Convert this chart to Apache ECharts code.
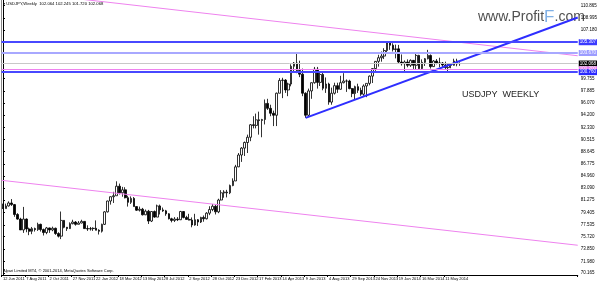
<!DOCTYPE html>
<html><head><meta charset="utf-8">
<script src="https://cdn.jsdelivr.net/npm/echarts@6/dist/echarts.min.js"></script>
<style>html,body{margin:0;padding:0;background:#fff}#c{width:600px;height:281px}</style>
</head><body><div id="c"></div>
<script>
// Weekly candles, week starting 12 Jun 2011 (index 0) to 15 Jun 2014 (index 157)
const dateLabels = ['12 Jun 2011','7 Aug 2011','2 Oct 2011','27 Nov 2011','22 Jan 2012','18 Mar 2012','13 May 2012','8 Jul 2012','2 Sep 2012','28 Oct 2012','23 Dec 2012','17 Feb 2013','14 Apr 2013','9 Jun 2013','4 Aug 2013','29 Sep 2013','24 Nov 2013','19 Jan 2014','16 Mar 2014','11 May 2014'];
const opens = [80.15,80.00,80.40,80.85,80.60,79.10,78.40,76.75,78.40,76.90,76.55,76.95,76.80,77.60,76.80,76.35,77.05,76.75,77.00,76.20,
75.80,78.20,77.15,76.95,77.70,77.95,77.60,77.80,78.05,76.95,76.90,76.95,77.00,76.70,76.55,77.60,79.50,81.15,81.80,81.95,
83.40,82.40,82.85,81.65,80.95,81.55,80.30,79.75,79.90,79.05,79.60,78.10,79.55,78.70,80.40,79.80,79.65,79.20,78.45,78.20,
78.40,78.30,79.55,78.65,78.35,78.25,77.50,78.30,77.95,78.65,78.45,79.30,79.85,80.35,79.50,81.30,82.40,82.50,82.40,83.50,
84.20,86.35,88.15,89.20,90.05,90.85,92.75,92.65,93.50,93.40,93.55,96.00,95.25,94.50,94.20,97.55,99.50,99.55,98.05,98.95,
101.65,102.15,101.00,100.45,97.55,94.20,97.90,99.15,101.20,99.20,100.40,98.30,98.95,96.20,97.55,98.70,98.15,99.15,99.40,99.40,
98.25,97.50,98.55,98.00,97.40,98.65,99.05,100.15,101.30,102.40,102.95,103.20,104.05,105.20,104.85,104.20,104.30,102.30,102.05,102.30,
101.80,102.55,101.80,103.30,101.30,102.25,102.80,103.30,101.60,102.45,102.15,102.15,101.85,101.45,101.95,101.80,102.45,102.06];
const highs = [80.75,80.75,81.10,81.45,80.70,79.30,78.60,80.25,78.50,77.10,77.20,77.10,77.85,77.70,76.95,77.20,77.10,77.25,77.10,76.40,
79.55,78.25,77.20,77.90,78.30,78.10,78.10,78.30,78.10,77.45,77.20,77.15,78.20,76.85,77.70,79.60,81.20,81.85,82.55,84.15,
83.80,83.30,83.25,81.95,81.85,81.75,80.35,80.30,80.10,79.85,79.80,79.60,79.70,80.60,80.60,80.15,79.80,79.30,78.60,78.70,
78.70,79.65,79.60,78.90,79.20,78.65,79.20,78.40,78.75,78.95,79.45,80.35,80.70,80.60,81.50,82.80,82.80,82.85,83.65,84.60,
86.65,88.45,89.35,90.20,91.25,92.85,94.05,94.45,94.75,93.65,96.60,96.70,95.80,94.90,97.65,99.85,99.90,99.70,99.15,101.95,
102.30,103.75,102.50,101.30,97.70,98.25,99.10,101.55,101.55,100.85,100.80,99.95,99.15,98.40,99.15,99.15,100.20,100.60,99.65,99.60,
98.35,98.70,99.00,98.40,98.90,99.05,100.25,101.35,102.45,103.40,103.90,104.40,105.40,105.45,105.15,104.95,104.90,103.45,102.55,102.70,
102.70,102.60,103.75,103.40,102.70,102.90,104.15,103.45,102.60,102.75,102.95,102.30,102.35,102.00,102.10,102.80,102.80,102.25];
const lows = [79.95,80.00,80.30,80.40,78.75,78.30,76.75,76.30,76.40,75.95,76.10,76.50,76.60,76.50,75.90,76.10,76.30,76.55,76.00,75.60,
75.35,77.00,76.60,76.90,77.60,77.40,77.60,77.75,76.90,76.60,76.65,76.60,76.70,76.05,76.35,77.50,79.40,80.60,80.85,81.95,
82.15,81.80,81.55,80.30,80.70,80.30,79.65,79.55,78.95,79.00,77.65,77.95,78.60,78.70,79.10,79.50,78.90,78.35,77.90,77.95,
78.10,78.25,78.50,78.35,78.20,77.15,77.40,77.35,77.80,78.00,78.35,79.00,79.60,79.10,79.30,81.25,81.65,81.70,82.20,83.40,
84.20,86.30,87.10,88.00,88.45,90.25,92.20,92.20,91.25,90.85,92.80,95.00,94.05,92.55,92.55,97.55,96.80,97.60,97.10,98.60,
100.70,100.60,100.00,97.10,93.80,94.00,96.70,99.00,98.25,98.65,98.00,97.60,95.80,95.80,97.35,97.60,98.10,99.05,97.75,98.15,
96.95,96.55,97.60,97.15,97.15,96.95,98.75,99.10,100.95,101.60,102.35,102.75,103.80,104.15,103.90,102.85,102.05,101.75,100.75,101.50,
101.55,101.25,101.20,101.20,101.20,101.70,102.70,101.30,101.55,101.95,101.50,101.45,101.10,100.80,101.35,101.75,101.65,101.72];
const closes = [80.00,80.40,80.85,80.60,79.10,78.40,76.75,78.40,76.90,76.55,76.95,76.80,77.60,76.80,76.35,77.05,76.75,77.00,76.20,75.80,
78.20,77.15,76.95,77.70,77.95,77.60,77.80,78.05,76.95,76.90,76.95,77.00,76.70,76.55,77.60,79.50,81.15,81.80,81.95,83.40,
82.40,82.85,81.65,80.95,81.55,80.30,79.75,79.90,79.05,79.60,78.10,79.55,78.70,80.40,79.80,79.65,79.20,78.45,78.20,78.40,
78.30,79.55,78.65,78.35,78.25,77.50,78.30,77.95,78.65,78.45,79.30,79.85,80.35,79.50,81.30,82.40,82.50,82.40,83.50,84.20,
86.35,88.15,89.20,90.05,90.85,92.75,92.65,93.50,93.40,93.55,96.00,95.25,94.50,94.20,97.55,99.50,99.55,98.05,98.95,101.65,
102.15,101.00,100.45,97.55,94.20,97.90,99.15,101.20,99.20,100.40,98.30,98.95,96.20,97.55,98.70,98.15,99.15,99.40,99.40,98.25,
97.50,98.55,98.00,97.40,98.65,99.05,100.15,101.30,102.40,102.95,103.20,104.05,105.20,104.85,104.20,104.30,102.30,102.05,102.30,101.80,
102.55,101.80,103.30,101.30,102.25,102.80,103.30,101.60,102.45,102.15,102.15,101.85,101.45,101.95,101.80,102.45,102.00,102.07];
const futureWeeks = 40;
const yTickLabels = [70.165,71.980,73.850,75.720,77.535,79.405,81.275,83.090,84.960,86.775,88.645,90.515,92.330,94.200,96.070,97.885,99.755,107.180,108.995,110.865];
const yMin = 69.891, yMax = 111.735;
// price levels (horizontal lines) and their box texts
const levelValues = [105.307, 103.670, 102.068, 101.200, 100.760];
const levelTexts = ['105.307','103.670','102.068','101.200','100.760'];
// trend lines in [week index, price]
const upperChannel = [[-0.5, 113.24], [197.5, 103.25]];
const lowerChannel = [[-0.5, 84.30], [197.5, 74.42]];
const supportLine = [[104, 93.80], [197.5, 109.08]];

const levelStyles = [
  {line:'#4848ff', w:2, box:'#3a3aff'},
  {line:'#a8a8ff', w:2, box:'#9c9cff'},
  {line:'#c8c8c8', w:1, box:'#000000'},
  {line:'#ee82ee', w:1, box:'#ee82ee'},
  {line:'#4848ff', w:2, box:'#2a2aff'}
];

const N = closes.length + futureWeeks;
const categories = [];
for (let i = 0; i < N; i++) categories.push(i % 8 === 0 && i / 8 < dateLabels.length ? dateLabels[i / 8] : '');
const candles = closes.map((c, i) => [opens[i], c, lows[i], highs[i]]);

const chart = echarts.init(document.getElementById('c'), null, {renderer: 'canvas'});
const FONT = 'Liberation Sans, Arial, sans-serif';
chart.setOption({
  animation: false,
  backgroundColor: '#fff',
  grid: {left: 0, right: 16, top: 0, bottom: 6},
  xAxis: [{
    type: 'category', data: categories, boundaryGap: true,
    axisLine: {lineStyle: {color: '#000', width: 1}},
    axisTick: {show: true, length: 2, interval: (i, v) => v !== '', lineStyle: {color: '#000'}},
    axisLabel: {interval: 0, align: 'left', fontSize: 4, color: '#000', margin: 2, fontFamily: FONT},
    splitLine: {show: false}
  }, {
    type: 'value', min: -0.5, max: N - 0.5, show: false
  }],
  yAxis: [{
    type: 'value', position: 'right', min: yMin, max: yMax, scale: true,
    axisLine: {show: true, lineStyle: {color: '#000'}},
    axisTick: {show: true, length: 2, customValues: yTickLabels, lineStyle: {color: '#000'}},
    axisLabel: {customValues: yTickLabels, fontSize: 4.5, color: '#000', margin: 3, fontFamily: FONT,
      formatter: v => v.toFixed(3)},
    splitLine: {show: false}
  }, {
    type: 'value', position: 'left', min: yMin, max: yMax,
    axisLine: {show: true, lineStyle: {color: '#888'}},
    axisTick: {show: false}, axisLabel: {show: false}, splitLine: {show: false}
  }],
  series: [{
    type: 'candlestick', data: candles, barWidth: 2.2,
    itemStyle: {color: '#ffffff', color0: '#000000', borderColor: '#000000', borderColor0: '#000000', borderWidth: 0.8},
    markLine: {
      silent: true, symbol: ['none', 'none'], animation: false,
      data: levelValues.map((v, i) => ({
        yAxis: v,
        lineStyle: {color: levelStyles[i].line, width: levelStyles[i].w, type: 'solid'},
        label: {show: true, position: 'end', formatter: levelTexts[i], color: '#fff', fontSize: 4.5,
          fontFamily: FONT, backgroundColor: levelStyles[i].box, padding: [0.5, 1], distance: 1}
      }))
    }
  }, {
    type: 'line', xAxisIndex: 1, data: upperChannel, symbol: 'none', clip: true,
    lineStyle: {color: '#ee82ee', width: 1}
  }, {
    type: 'line', xAxisIndex: 1, data: lowerChannel, symbol: 'none', clip: true,
    lineStyle: {color: '#ee82ee', width: 1}
  }, {
    type: 'line', xAxisIndex: 1, data: supportLine, symbol: 'none', clip: true,
    lineStyle: {color: '#2e2eff', width: 2}
  }],
  graphic: [
    {type: 'text', left: 3, top: 2, style: {text: '\u25BE USDJPY,Weekly  102.064 102.245 101.720 102.068', fontSize: 4.2, fill: '#000', fontFamily: FONT}},
    {type: 'text', left: 462, top: 90, style: {text: 'USDJPY  WEEKLY', fontSize: 9, fill: '#1e1e1e', fontFamily: FONT}},
    {type: 'text', left: 478, top: 9, style: {
      text: '{a|www.Profit}{b|F}{a|.com}', fontFamily: FONT,
      rich: {a: {fontSize: 14, fill: '#505050', fontFamily: FONT}, b: {fontSize: 17, fill: '#7fb0e6', fontFamily: FONT}}
    }},
    {type: 'text', left: 3, top: 269, style: {text: 'Alpari Limited MT4, \u00A9 2001-2014, MetaQuotes Software Corp.', fontSize: 4, fill: '#000', fontFamily: FONT}}
  ]
});
</script></body></html>
